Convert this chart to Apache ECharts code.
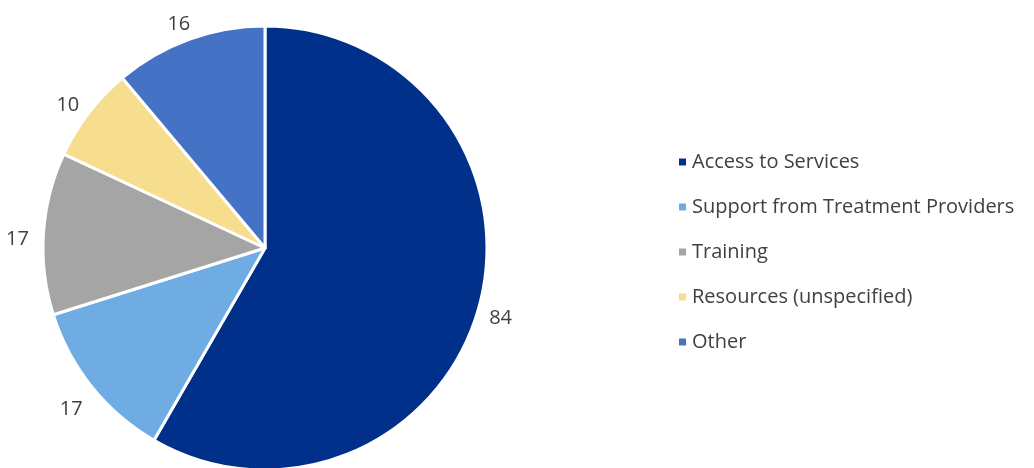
<!DOCTYPE html>
<html>
<head>
<meta charset="utf-8">
<script src="https://cdn.jsdelivr.net/npm/echarts@6/dist/echarts.min.js"></script>
<style>
  html, body { margin: 0; padding: 0; background: #fff; }
  #chart { width: 1034px; height: 468px; }
</style>
</head>
<body>
<div id="chart"></div>
<script>
const categories = ['Access to Services', 'Support from Treatment Providers', 'Training', 'Resources (unspecified)', 'Other'];
const counts = [84, 17, 17, 10, 16];
const colors = ['#00308A', '#6FACE3', '#A5A5A5', '#F7DD8E', '#4472C4'];

const pieData = categories.map((name, i) => ({
  name: name,
  value: counts[i],
  itemStyle: { color: colors[i] }
}));

const font = '"Open Sans", "Liberation Sans", sans-serif';
const chart = echarts.init(document.getElementById('chart'));
chart.setOption({
  animation: false,
  legend: {
    orient: 'vertical',
    left: 672,
    top: 147,
    icon: 'rect',
    itemWidth: 9,
    itemHeight: 9,
    itemGap: 25,
    textStyle: { fontFamily: font, fontSize: 20, color: '#404040' },
    data: categories
  },
  series: [
    {
      type: 'pie',
      center: [265, 248],
      radius: [0, 222],
      startAngle: 90,
      clockwise: true,
      silent: true,
      label: { show: false },
      labelLine: { show: false },
      itemStyle: { borderColor: '#fff', borderWidth: 3 },
      data: pieData
    },
    {
      // transparent ring used only to place value labels just outside the pie
      type: 'pie',
      center: [265, 248],
      radius: [0, 486],
      startAngle: 90,
      clockwise: true,
      silent: true,
      itemStyle: { color: 'rgba(0,0,0,0)' },
      label: {
        show: true,
        position: 'inside',
        formatter: '{c}',
        offset: [-2, 7],
        fontFamily: font,
        fontSize: 20,
        color: '#404040'
      },
      labelLine: { show: false },
      data: categories.map((name, i) => ({ name: name, value: counts[i] }))
    }
  ]
});
</script>
</body>
</html>
